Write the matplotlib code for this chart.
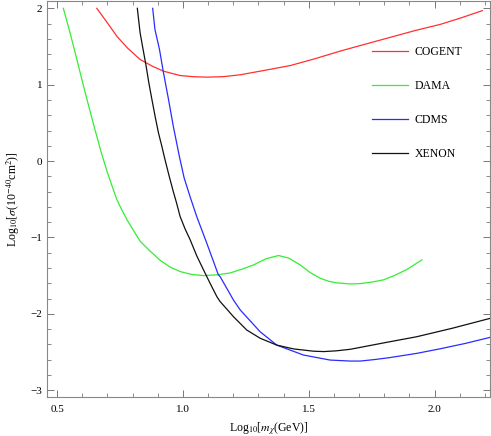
import matplotlib.pyplot as plt

plt.rcParams['font.family'] = ['Liberation Serif', 'DejaVu Serif']
plt.rcParams['mathtext.fontset'] = 'stix'

# values (log10 mass, log10 cross section)
cogent_x = [0.658, 0.70, 0.737, 0.78, 0.83, 0.88, 0.923, 0.989, 1.04, 1.095, 1.16, 1.228,
            1.307, 1.426, 1.525, 1.625, 1.724, 1.824, 1.924, 2.023, 2.11, 2.19]
cogent_y = [2.0, 1.81, 1.637, 1.48, 1.33, 1.24, 1.177, 1.12, 1.105, 1.099, 1.105, 1.13,
            1.177, 1.25, 1.34, 1.44, 1.53, 1.62, 1.71, 1.79, 1.88, 1.97]

dama_x = [0.525, 0.55, 0.575, 0.60, 0.625, 0.65, 0.675, 0.70, 0.737, 0.75, 0.778, 0.83,
          0.87, 0.91, 0.95, 0.989, 1.035, 1.082, 1.135, 1.188, 1.24, 1.281, 1.33, 1.38,
          1.42, 1.466, 1.506, 1.546, 1.58, 1.612, 1.665, 1.705, 1.75, 1.797, 1.84, 1.89, 1.95]
dama_y = [2.0, 1.70, 1.38, 1.05, 0.73, 0.42, 0.12, -0.15, -0.50, -0.59, -0.77, -1.05,
          -1.18, -1.30, -1.39, -1.447, -1.485, -1.50, -1.49, -1.465, -1.41, -1.36, -1.28, -1.237,
          -1.27, -1.36, -1.46, -1.535, -1.575, -1.595, -1.609, -1.605, -1.585, -1.556, -1.50, -1.42, -1.294]

cdms_x = [0.880, 0.889, 0.907, 0.923, 0.943, 0.962, 0.986, 1.005, 1.029, 1.055, 1.095, 1.141,
          1.148, 1.201, 1.228, 1.307, 1.373, 1.479, 1.585, 1.665, 1.705, 1.76, 1.82, 1.93,
          2.02, 2.12, 2.222]
cdms_y = [2.0, 1.724, 1.462, 1.156, 0.806, 0.455, 0.062, -0.22, -0.47, -0.726, -1.075, -1.49,
          -1.513, -1.82, -1.95, -2.235, -2.41, -2.54, -2.606, -2.619, -2.619, -2.60, -2.575, -2.518,
          -2.46, -2.39, -2.308]

xenon_x = [0.819, 0.83, 0.842, 0.854, 0.865, 0.877, 0.89, 0.903, 0.916, 0.929, 0.945, 0.962,
           0.975, 0.989, 1.009, 1.029, 1.055, 1.082, 1.108, 1.135, 1.148, 1.175, 1.201, 1.254,
           1.307, 1.373, 1.44, 1.519, 1.56, 1.61, 1.665, 1.705, 1.80, 1.93, 2.07, 2.222]
xenon_y = [2.0, 1.68, 1.46, 1.243, 1.02, 0.806, 0.58, 0.369, 0.2, 0.018, -0.19, -0.40,
           -0.55, -0.726, -0.89, -1.031, -1.24, -1.425, -1.6, -1.775, -1.84, -1.94, -2.038, -2.213,
           -2.32, -2.41, -2.46, -2.49, -2.495, -2.485, -2.465, -2.44, -2.38, -2.30, -2.19, -2.059]

series = [('COGENT', cogent_x, cogent_y, '#ff3030'),
          ('DAMA', dama_x, dama_y, '#33ee33'),
          ('CDMS', cdms_x, cdms_y, '#2b2bff'),
          ('XENON', xenon_x, xenon_y, '#111111')]

fig = plt.figure(figsize=(4.91, 4.36), dpi=100)
ax = fig.add_axes([0.0957, 0.0894, 0.902, 0.909])

for name, xs, ys, c in series:
    ax.plot(xs, ys, color=c, lw=0.9, label=name)

ax.set_xlim(0.46, 2.22)
ax.set_ylim(-3.09, 2.1)
ax.set_xticks([0.5, 1.0, 1.5, 2.0])
ax.set_xticks([x / 10 for x in range(5, 23)], minor=True)
ax.set_yticks([-3, -2, -1, 0, 1, 2])
ax.set_yticklabels(['\u22123', '\u22122', '\u22121', '0', '1', '2'])
ax.set_yticks([y / 5 for y in range(-15, 11)], minor=True)
ax.tick_params(which='both', direction='in', top=True, right=True, color='#777777', labelsize=8)
ax.tick_params(which='major', length=5, width=0.7)
ax.tick_params(axis='x', pad=6)
ax.tick_params(which='minor', length=3, width=0.6)
for s in ax.spines.values():
    s.set_color('#888888')
    s.set_linewidth(0.8)

ax.set_xlabel(r'Log$_{10}$[$m_\chi$(GeV)]', fontsize=8.5, labelpad=4)
ax.set_ylabel(r'Log$_{10}$[$\sigma$(10$^{-40}$cm$^2$)]', fontsize=8.5, labelpad=6)

ax.legend(loc='upper right', bbox_to_anchor=(0.962, 0.912), frameon=False, fontsize=8.5,
          handlelength=3, labelspacing=1.85, handletextpad=0.6)

fig.savefig('out.png', dpi=100)
